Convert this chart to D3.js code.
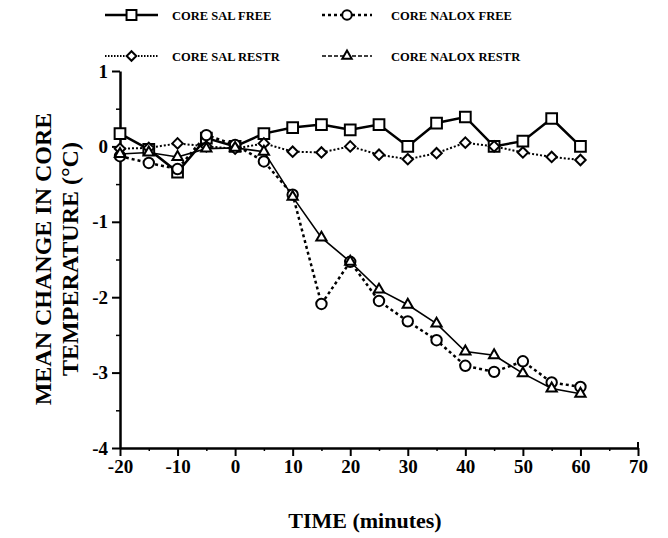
<!DOCTYPE html>
<html>
<head>
<meta charset="utf-8">
<script src="https://cdn.jsdelivr.net/npm/d3@7"></script>
<style>
body { margin: 0; background: #fff; }
text { font-family: "Liberation Serif", "Times New Roman", serif; font-weight: bold; fill: #000; }
</style>
</head>
<body>
<div class="chart"></div>
<script>
// time points (minutes)
var times = [-20, -15, -10, -5, 0, 5, 10, 15, 20, 25, 30, 35, 40, 45, 50, 55, 60];

// mean change in core temperature (°C)
var salFree    = [0.17, -0.04, -0.34, 0.11, 0.0, 0.17, 0.25, 0.29, 0.22, 0.29, 0.0, 0.31, 0.39, 0.0, 0.07, 0.37, 0.0];
var naloxFree  = [-0.13, -0.22, -0.3, 0.15, 0.02, -0.2, -0.64, -2.09, -1.53, -2.05, -2.32, -2.57, -2.91, -2.99, -2.85, -3.13, -3.19];
var salRestr   = [-0.03, -0.02, 0.04, 0.0, -0.03, 0.04, -0.07, -0.08, 0.0, -0.11, -0.17, -0.09, 0.05, 0.0, -0.08, -0.14, -0.18];
var naloxRestr = [-0.1, -0.08, -0.14, -0.03, -0.02, -0.07, -0.67, -1.21, -1.53, -1.9, -2.1, -2.35, -2.72, -2.77, -3.01, -3.21, -3.28];

var xTicks = [-20, -10, 0, 10, 20, 30, 40, 50, 60, 70];
var yTicks = [1, 0, -1, -2, -3, -4];

var series = [
  {name: "CORE SAL FREE",    values: salFree,    symbol: d3.symbolSquare,    size: 115, width: 2.5, dash: null,  legendDash: null},
  {name: "CORE NALOX FREE",  values: naloxFree,  symbol: d3.symbolCircle,    size: 85,  width: 2.5, dash: "3,3", legendDash: "3,3"},
  {name: "CORE SAL RESTR",   values: salRestr,   symbol: d3.symbolDiamond2,  size: 70,  width: 2,   dash: "2,2", legendDash: "1.5,1.5"},
  {name: "CORE NALOX RESTR", values: naloxRestr, symbol: d3.symbolTriangle2, size: 75,  width: 1.6, dash: null,  legendDash: "4,2"}
];

var W = 668, H = 538;
var margin = {left: 120, right: 638, top: 71, bottom: 448};

var svg = d3.select(".chart").append("svg")
  .attr("width", W).attr("height", H);

var x = d3.scaleLinear().domain([-20, 70]).range([margin.left, margin.right]);
var y = d3.scaleLinear().domain([-4, 1]).range([margin.bottom, margin.top]);

var fmt = d => String(d);

// minor ticks first
svg.append("g")
  .attr("transform", "translate(0," + margin.bottom + ")")
  .call(d3.axisBottom(x).tickValues(d3.range(-15, 70, 10)).tickSize(3).tickFormat(""))
  .call(g => g.select(".domain").remove())
  .selectAll("line").attr("stroke-width", 1.5);

svg.append("g")
  .attr("transform", "translate(" + margin.left + ",0)")
  .call(d3.axisLeft(y).tickValues(d3.range(-3.5, 1, 1)).tickSize(4).tickFormat(""))
  .call(g => g.select(".domain").remove())
  .selectAll("line").attr("stroke-width", 1.5);

var xAxis = svg.append("g")
  .attr("transform", "translate(0," + margin.bottom + ")")
  .call(d3.axisBottom(x).tickValues(xTicks).tickSize(8).tickSizeOuter(0).tickPadding(4).tickFormat(fmt));
xAxis.select(".domain").attr("stroke-width", 2.5);
xAxis.selectAll("line").attr("stroke-width", 2);
xAxis.selectAll("text").style("font-size", "19px");

var yAxis = svg.append("g")
  .attr("transform", "translate(" + margin.left + ",0)")
  .call(d3.axisLeft(y).tickValues(yTicks).tickSize(8).tickSizeOuter(0).tickPadding(4).tickFormat(fmt));
yAxis.select(".domain").attr("stroke-width", 2.5);
yAxis.selectAll("line").attr("stroke-width", 2);
yAxis.selectAll("text").style("font-size", "19px");

// small end tick at 70
svg.append("line")
  .attr("x1", x(70)).attr("x2", x(70))
  .attr("y1", margin.bottom).attr("y2", margin.bottom - 6)
  .attr("stroke", "#000").attr("stroke-width", 2);

var line = d3.line()
  .x((d, i) => x(times[i]))
  .y(d => y(d));

series.forEach(function(s) {
  svg.append("path")
    .datum(s.values)
    .attr("fill", "none")
    .attr("stroke", "#000")
    .attr("stroke-width", s.width)
    .attr("stroke-dasharray", s.dash)
    .attr("d", line);
});

series.forEach(function(s) {
  svg.selectAll(null)
    .data(s.values)
    .enter().append("path")
      .attr("transform", (d, i) => "translate(" + x(times[i]) + "," + y(d) + ")")
      .attr("d", d3.symbol().type(s.symbol).size(s.size))
      .attr("fill", "#fff")
      .attr("stroke", "#000")
      .attr("stroke-width", 2);
});

// legend
var legendPos = [
  {lx1: 105, lx2: 158, tx: 172, ly: 15},
  {lx1: 322, lx2: 372, tx: 391, ly: 15},
  {lx1: 105, lx2: 158, tx: 172, ly: 56},
  {lx1: 322, lx2: 372, tx: 391, ly: 56}
];

series.forEach(function(s, i) {
  var p = legendPos[i];
  var g = svg.append("g");
  g.append("line")
    .attr("x1", p.lx1).attr("x2", p.lx2)
    .attr("y1", p.ly).attr("y2", p.ly)
    .attr("stroke", "#000")
    .attr("stroke-width", s.width)
    .attr("stroke-dasharray", s.legendDash);
  g.append("path")
    .attr("transform", "translate(" + (p.lx1 + p.lx2) / 2 + "," + p.ly + ")")
    .attr("d", d3.symbol().type(s.symbol).size(s.size * 0.85))
    .attr("fill", "#fff")
    .attr("stroke", "#000")
    .attr("stroke-width", 2);
  g.append("text")
    .attr("x", p.tx).attr("y", p.ly + 4.5)
    .style("font-size", "12.5px")
    .text(s.name);
});

// axis titles
var midY = 259;
svg.append("text")
  .attr("transform", "translate(51," + midY + ") rotate(-90)")
  .attr("text-anchor", "middle")
  .style("font-size", "24px")
  .text("MEAN CHANGE IN CORE");

svg.append("text")
  .attr("transform", "translate(78," + midY + ") rotate(-90)")
  .attr("text-anchor", "middle")
  .style("font-size", "24px")
  .text("TEMPERATURE (°C)");

svg.append("text")
  .attr("x", 365).attr("y", 528)
  .attr("text-anchor", "middle")
  .style("font-size", "22px")
  .text("TIME (minutes)");
</script>
</body>
</html>
